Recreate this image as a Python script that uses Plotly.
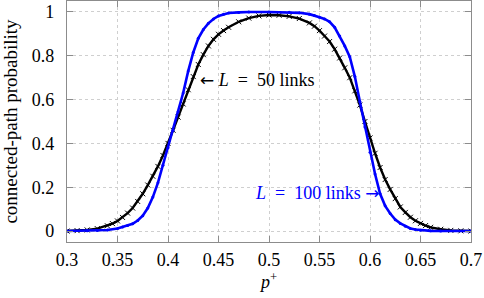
import plotly.graph_objects as go

# L = 50 links (black)
x_l50 = [0.30, 0.31, 0.32, 0.33, 0.34, 0.345, 0.35, 0.355, 0.36, 0.365, 0.37, 0.375,
         0.38, 0.385, 0.39, 0.395, 0.40, 0.405, 0.41, 0.415, 0.42, 0.425, 0.43, 0.435,
         0.44, 0.445, 0.45, 0.455, 0.46, 0.47, 0.48, 0.49, 0.50,
         0.51, 0.52, 0.53, 0.54, 0.545, 0.55, 0.555, 0.56, 0.565, 0.57, 0.575, 0.58,
         0.585, 0.59, 0.595, 0.60, 0.605, 0.61, 0.615, 0.62, 0.625, 0.63, 0.635, 0.64,
         0.645, 0.65, 0.655, 0.66, 0.67, 0.68, 0.69, 0.70]
y_l50 = [0.000, 0.002, 0.005, 0.011, 0.024, 0.034, 0.046, 0.062, 0.082, 0.105, 0.135, 0.170,
         0.210, 0.250, 0.295, 0.345, 0.400, 0.460, 0.520, 0.580, 0.645, 0.705, 0.760, 0.805,
         0.845, 0.875, 0.898, 0.915, 0.930, 0.955, 0.972, 0.982, 0.986,
         0.985, 0.980, 0.970, 0.950, 0.935, 0.915, 0.890, 0.865, 0.830, 0.790, 0.745, 0.700,
         0.640, 0.575, 0.500, 0.425, 0.355, 0.290, 0.235, 0.190, 0.148, 0.110, 0.085, 0.063,
         0.047, 0.035, 0.025, 0.017, 0.008, 0.003, 0.001, 0.000]

# L = 100 links (blue)
x_l100 = [0.30, 0.32, 0.33, 0.34, 0.35, 0.355, 0.36, 0.365, 0.37, 0.375, 0.38, 0.385,
          0.39, 0.395, 0.40, 0.405, 0.41, 0.415, 0.42, 0.425, 0.43, 0.435, 0.44, 0.445,
          0.45, 0.455, 0.46, 0.47, 0.48, 0.50, 0.52, 0.53, 0.54, 0.545, 0.55, 0.555,
          0.56, 0.565, 0.57, 0.575, 0.58, 0.585, 0.59, 0.595, 0.60, 0.605, 0.61, 0.615,
          0.62, 0.625, 0.63, 0.635, 0.64, 0.645, 0.65, 0.66, 0.67, 0.70]
y_l100 = [0.000, 0.001, 0.002, 0.005, 0.012, 0.018, 0.025, 0.033, 0.048, 0.070, 0.105, 0.155,
          0.220, 0.300, 0.380, 0.460, 0.545, 0.630, 0.730, 0.815, 0.880, 0.920, 0.948, 0.968,
          0.982, 0.990, 0.995, 0.998, 1.000, 1.000, 0.999, 0.996, 0.990, 0.984, 0.976, 0.968,
          0.955, 0.930, 0.890, 0.845, 0.795, 0.705, 0.590, 0.475, 0.360, 0.260, 0.170, 0.115,
          0.080, 0.052, 0.035, 0.022, 0.012, 0.007, 0.004, 0.001, 0.000, 0.000]

x_ticks = [0.3, 0.35, 0.4, 0.45, 0.5, 0.55, 0.6, 0.65, 0.7]
x_tick_labels = ["0.3", "0.35", "0.4", "0.45", "0.5", "0.55", "0.6", "0.65", "0.7"]
y_ticks = [0, 0.2, 0.4, 0.6, 0.8, 1]
y_tick_labels = ["0", "0.2", "0.4", "0.6", "0.8", "1"]

FONT = "Liberation Serif"
FS = 18
ARROW = "<span style='font-family:DejaVu Sans;font-size:17px'>{}</span>"

fig = go.Figure()
fig.add_trace(go.Scatter(
    x=x_l50, y=y_l50, mode="lines+markers",
    line=dict(color="black", width=2.4),
    marker=dict(symbol="x-thin", size=5, color="black", line=dict(width=1, color="black")),
    showlegend=False))
fig.add_trace(go.Scatter(
    x=x_l100, y=y_l100, mode="lines+markers",
    line=dict(color="#0000ff", width=2.6),
    marker=dict(symbol="circle", size=3, color="#0000ff"),
    showlegend=False))

fig.add_annotation(x=0.4295, y=0.69, xref="x", yref="y", xanchor="left", yanchor="middle",
                   text=ARROW.format("←") + " <i>L</i>\u2002=\u200250 links", showarrow=False,
                   font=dict(family=FONT, size=FS, color="black"))
fig.add_annotation(x=0.6105, y=0.175, xref="x", yref="y", xanchor="right", yanchor="middle",
                   text="<i>L</i>\u2002=\u2002100 links " + ARROW.format("→"), showarrow=False,
                   font=dict(family=FONT, size=FS, color="#0000ff"))

axis_common = dict(
    showline=True, linecolor="#8c8c8c", linewidth=1.2, mirror="ticks",
    ticks="inside", ticklen=6, tickcolor="#8c8c8c",
    showgrid=True, gridcolor="#cfcfcf", griddash="dot", gridwidth=1,
    zeroline=False, tickfont=dict(family=FONT, size=FS, color="black"),
    automargin=False,
)

fig.update_xaxes(range=[0.3, 0.7], tickvals=x_ticks, ticktext=x_tick_labels,
                 title=dict(text="<i>p</i><sup>+</sup>", font=dict(family=FONT, size=FS), standoff=0),
                 ticklabelstandoff=1, **axis_common)
fig.update_yaxes(range=[-0.05, 1.05], tickvals=y_ticks, ticktext=y_tick_labels,
                 title=dict(text="connected-path probability", font=dict(family=FONT, size=19), standoff=9),
                 ticklabelstandoff=8, **axis_common)

fig.update_layout(
    width=484, height=298,
    margin=dict(l=67, r=13, t=1, b=56, autoexpand=False),
    plot_bgcolor="white", paper_bgcolor="white",
    font=dict(family=FONT, color="black"),
)

fig.write_html("out.html", config={"displayModeBar": False},
               post_script="document.body.style.margin='0';document.body.style.padding='0';")
